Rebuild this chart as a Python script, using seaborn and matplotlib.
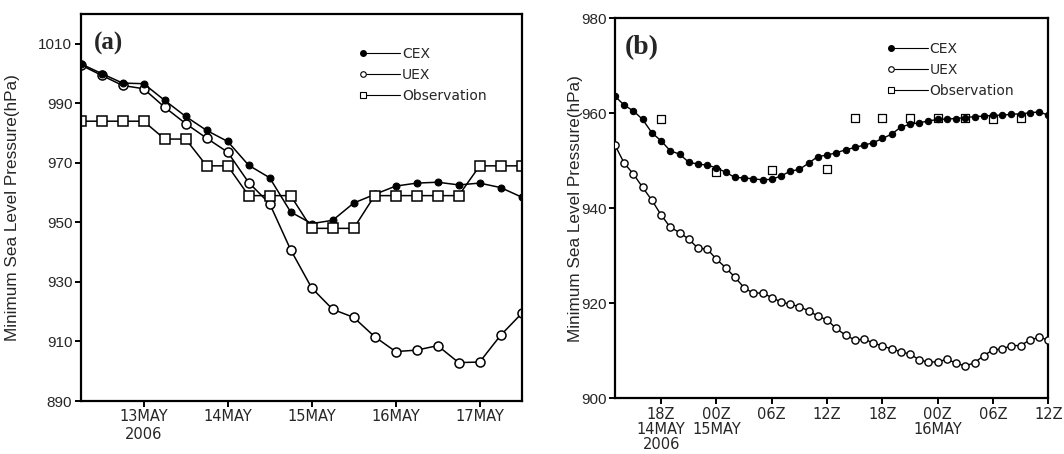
import pandas as pd
import matplotlib.pyplot as plt
import seaborn as sns
from matplotlib.lines import Line2D
from matplotlib.legend_handler import HandlerLine2DCompound

# --- panel (a): 6-hourly, 12 May 06Z -> 17 May 12Z ---
time_a = pd.date_range('2006-05-12 06:00', '2006-05-17 12:00', freq='6h')
cex_a = [1003.3, 1000.0, 996.8, 996.6, 991.0, 985.6, 980.9, 977.2, 969.2, 965.0, 953.5,
         949.6, 950.7, 956.5, 959.4, 962.2, 963.2, 963.5, 962.6, 963.2, 961.7, 958.5]
uex_a = [1002.9, 999.4, 996.0, 994.9, 988.7, 983.2, 978.3, 973.6, 963.4, 956.3, 940.8,
         928.0, 920.8, 918.1, 911.6, 906.6, 907.1, 908.6, 902.9, 903.1, 912.1, 919.4]
obs_a = [984, 984, 984, 984, 978, 978, 969, 969, 959, 959, 959,
         948, 948, 948, 959, 959, 959, 959, 959, 969, 969, 969]
xticks_a = pd.to_datetime(['2006-05-13', '2006-05-14', '2006-05-15', '2006-05-16', '2006-05-17'])
xlabels_a = ['13MAY\n2006', '14MAY', '15MAY', '16MAY', '17MAY']
yticks_a = [890, 910, 930, 950, 970, 990, 1010]

# --- panel (b): hourly, 14 May 13Z -> 16 May 12Z ---
time_b = pd.date_range('2006-05-14 13:00', '2006-05-16 12:00', freq='h')
cex_b = [963.6, 961.7, 960.5, 958.7, 955.9, 954.2, 952.1, 951.4, 949.7, 949.3,
         949.1, 948.5, 947.6, 946.5, 946.4, 946.2, 946.0, 946.1, 946.8, 947.8,
         948.2, 949.5, 950.9, 951.2, 951.7, 952.3, 952.8, 953.3, 953.8, 954.7,
         955.6, 957.1, 957.7, 958.0, 958.4, 958.7, 958.8, 958.9, 959.1, 959.3,
         959.4, 959.6, 959.6, 959.8, 959.9, 960.1, 960.3, 959.6]
uex_b = [953.3, 949.5, 947.2, 944.4, 941.7, 938.6, 936.0, 934.9, 933.5, 931.6,
         931.4, 929.3, 927.5, 925.5, 923.3, 922.1, 922.2, 921.2, 920.3, 919.8,
         919.3, 918.4, 917.3, 916.5, 914.7, 913.3, 912.3, 912.4, 911.7, 911.0,
         910.4, 909.8, 909.3, 908.1, 907.6, 907.7, 908.2, 907.4, 906.8, 907.5,
         909.0, 910.2, 910.4, 911.1, 911.1, 912.3, 912.8, 912.3]
obs_time_b = pd.to_datetime(['2006-05-14 18:00', '2006-05-15 00:00', '2006-05-15 06:00',
                             '2006-05-15 12:00', '2006-05-15 15:00', '2006-05-15 18:00',
                             '2006-05-15 21:00', '2006-05-16 00:00', '2006-05-16 03:00',
                             '2006-05-16 06:00', '2006-05-16 09:00'])
obs_b = [958.8, 947.7, 948.1, 948.3, 959.1, 959.1, 959.1, 959.1, 959.0, 958.8, 959.0]
xticks_b = pd.to_datetime(['2006-05-14 18:00', '2006-05-15 00:00', '2006-05-15 06:00',
                           '2006-05-15 12:00', '2006-05-15 18:00', '2006-05-16 00:00',
                           '2006-05-16 06:00', '2006-05-16 12:00'])
xlabels_b = ['18Z\n14MAY\n2006', '00Z\n15MAY', '06Z', '12Z', '18Z', '00Z\n16MAY', '06Z', '12Z']
yticks_b = [900, 920, 940, 960, 980]

series_names = ['CEX', 'UEX', 'Observation']


class MarkerLeft(HandlerLine2DCompound):
    # legend glyph: marker on the left end of the line
    def get_xdata(self, legend, xdescent, ydescent, width, height, fontsize):
        return [-xdescent, -xdescent + width], [-xdescent]


sns.set_style('ticks')
plt.rcParams['font.family'] = ['DejaVu Sans']

fig = plt.figure(figsize=(10.64, 4.54), dpi=100)
ax_a = fig.add_axes([0.0758, 0.1167, 0.4145, 0.8524])
ax_b = fig.add_axes([0.578, 0.1227, 0.4073, 0.837])

# --- panel (a) ---
sns.lineplot(x=time_a, y=uex_a, ax=ax_a, color='black', lw=1.1, marker='o', markersize=6.5,
             mfc='white', mec='black', mew=1.1)
sns.lineplot(x=time_a, y=cex_a, ax=ax_a, color='black', lw=1.1, marker='o', markersize=5,
             mfc='black', mec='black')
sns.lineplot(x=time_a, y=obs_a, ax=ax_a, color='black', lw=1.1, marker='s', markersize=6.5,
             mfc='white', mec='black', mew=1.1)
ax_a.set_xlim(time_a[0], time_a[-1])
ax_a.set_ylim(890, 1020)
ax_a.set_xticks(xticks_a)
ax_a.set_xticklabels(xlabels_a)
ax_a.set_yticks(yticks_a)

# --- panel (b) ---
sns.scatterplot(x=obs_time_b, y=obs_b, ax=ax_b, marker='s', s=26, facecolor='white',
                edgecolor='black', linewidth=0.9, zorder=2)
sns.lineplot(x=time_b, y=cex_b, ax=ax_b, color='black', lw=1.0, marker='o', markersize=4.6,
             mfc='black', mec='black', zorder=3)
sns.lineplot(x=time_b, y=uex_b, ax=ax_b, color='black', lw=1.0, marker='o', markersize=5.2,
             mfc='white', mec='black', mew=1.0, zorder=3)
ax_b.set_xlim(time_b[0], time_b[-1])
ax_b.set_ylim(900, 980)
ax_b.set_xticks(xticks_b)
ax_b.set_xticklabels(xlabels_b, linespacing=1.0)
ax_b.set_yticks(yticks_b)

legend_handles = [
    Line2D([], [], color='black', lw=0.8, marker='o', ms=4, mfc='black', mec='black'),
    Line2D([], [], color='black', lw=0.8, marker='o', ms=4, mfc='white', mec='black', mew=0.8),
    Line2D([], [], color='black', lw=0.8, marker='s', ms=4, mfc='white', mec='black', mew=0.8),
]

for ax, anchor, lab_x, tag, tag_pos, tag_size in [
        (ax_a, (0.64, 0.914), -0.1376, '(a)', (0.03, 0.955), 18),
        (ax_b, (0.636, 0.937), -0.0739, '(b)', (0.023, 0.957), 20)]:
    for s in ax.spines.values():
        s.set_linewidth(1.6)
        s.set_color('black')
    ax.tick_params(axis='both', direction='out', length=4, width=1.4, color='black', pad=2)
    ax.tick_params(axis='x', labelsize=10.5)
    ax.tick_params(axis='y', labelsize=11)
    for t in ax.get_yticklabels():
        t.set_fontfamily('Liberation Sans')
    ax.set_xlabel('')
    ax.set_ylabel('Minimum Sea Level Pressure(hPa)', fontsize=12.3, family='Liberation Sans')
    ax.yaxis.set_label_coords(lab_x, 0.5)
    ax.text(tag_pos[0], tag_pos[1], tag, transform=ax.transAxes, ha='left', va='top',
            fontsize=tag_size, fontweight='bold', family='Liberation Serif')
    ax.legend(legend_handles, series_names, loc='upper left', bbox_to_anchor=anchor,
              frameon=False, fontsize=10, handlelength=2.7, handletextpad=0.1,
              borderpad=0, borderaxespad=0, labelspacing=0.5,
              handler_map={Line2D: MarkerLeft()})

fig.savefig('out.png', dpi=100)
